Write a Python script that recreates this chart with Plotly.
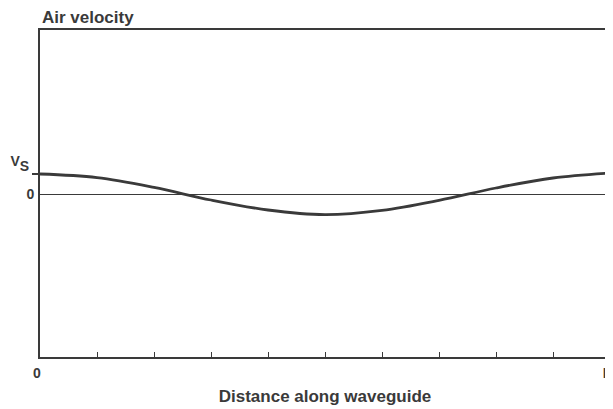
import plotly.graph_objects as go

# Distance along waveguide (fraction of L) and air velocity (units of V_S)
distance = [0.0, 0.1, 0.2, 0.3, 0.4, 0.5, 0.6, 0.7, 0.8, 0.9, 1.0]
velocity = [1.0, 0.82, 0.33, -0.30, -0.80, -1.03, -0.82, -0.32, 0.30, 0.80, 1.05]

x_tick_vals = [0.0, 0.1, 0.2, 0.3, 0.4, 0.5, 0.6, 0.7, 0.8, 0.9, 1.0]
x_tick_text = ["0", "", "", "", "", "", "", "", "", "", "L"]
y_zero_label = ["0"]
y_vs_label = ['V<sub><sub><span style="font-size:14px">S</span></sub></sub>']

INK = "#3a3a3a"
FONT = "Liberation Sans, Arial, sans-serif"

fig = go.Figure()
fig.add_trace(go.Scatter(
    x=distance, y=velocity, mode="lines",
    line=dict(color=INK, width=2.8, shape="spline", smoothing=1.0),
    hoverinfo="skip", showlegend=False,
))
# invisible trace on second y axis so it is drawn
fig.add_trace(go.Scatter(x=[0], y=[0], yaxis="y2", mode="markers",
                         marker=dict(opacity=0), showlegend=False, hoverinfo="skip"))

yr = [-8.15, 8.2]
# page body has an 8px default margin, so the figure is sized/offset to fit the window
fig.update_layout(
    width=605, height=401,
    margin=dict(l=32, r=3, t=22, b=52, autoexpand=False),
    paper_bgcolor="white", plot_bgcolor="white",
    font=dict(family=FONT, color=INK, size=14, weight="bold"),
    xaxis=dict(
        range=[0, 1], showgrid=False, zeroline=False, automargin=False,
        showline=True, linecolor=INK, linewidth=1.6, mirror=True,
        tickmode="array", tickvals=x_tick_vals, ticktext=x_tick_text,
        ticks="inside", ticklen=5, tickwidth=1.2, tickcolor=INK,
        ticklabelstandoff=2, ticklabelshift=-3, ticklabeloverflow="allow",
        tickfont=dict(size=14, family=FONT, color=INK, weight="bold"),
        title=dict(text="Distance along waveguide", standoff=11,
                   font=dict(size=17, family=FONT, color=INK, weight="bold")),
    ),
    yaxis=dict(
        range=yr, showgrid=False, automargin=False,
        zeroline=True, zerolinecolor=INK, zerolinewidth=1.4,
        showline=True, linecolor=INK, linewidth=1.6, mirror=True,
        tickmode="array", tickvals=[0], ticktext=y_zero_label,
        ticks="", ticklabelstandoff=1,
        tickfont=dict(size=14, family=FONT, color=INK, weight="bold"),
    ),
    yaxis2=dict(
        range=yr, overlaying="y", side="left", showgrid=False, zeroline=False,
        showline=False, automargin=False,
        tickmode="array", tickvals=[1], ticktext=y_vs_label,
        ticks="outside", ticklen=7, tickwidth=2, tickcolor=INK,
        ticklabelstandoff=0, ticklabelshift=-13, ticklabeloverflow="allow",
        tickfont=dict(size=14, family=FONT, color=INK, weight="bold"),
    ),
    annotations=[dict(
        text="Air velocity", xref="paper", yref="paper", x=0, y=1,
        xanchor="left", yanchor="bottom", yshift=1, xshift=0, showarrow=False,
        font=dict(size=17, family=FONT, color=INK, weight="bold"),
    )],
)

fig.write_html("out.html")
